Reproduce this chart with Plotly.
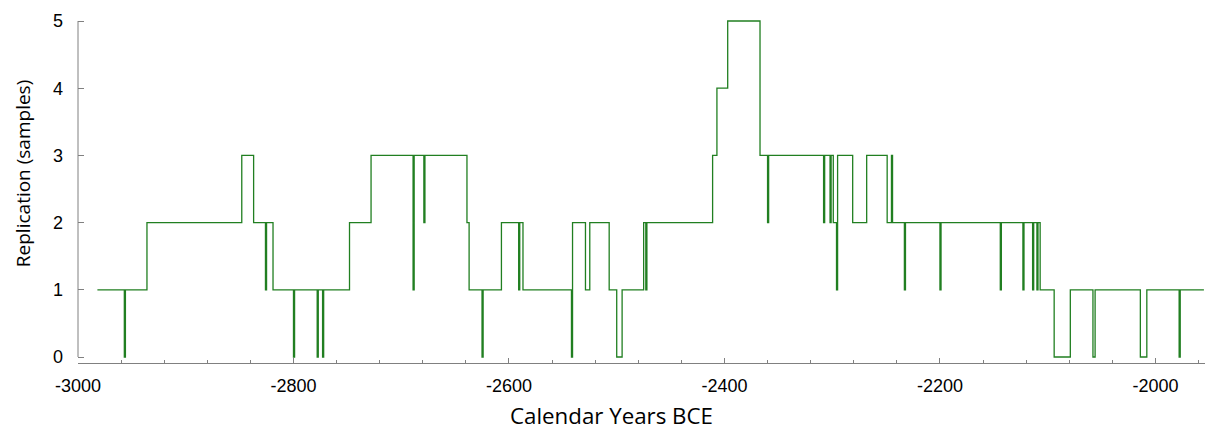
import plotly.graph_objects as go

# Step change points: year where each value starts
years = [-2982, -2957, -2956, -2936, -2848, -2837, -2826, -2825, -2819, -2800,
         -2799, -2778, -2777, -2773, -2772, -2748, -2728, -2689, -2688, -2679,
         -2678, -2639, -2637, -2625, -2624, -2607, -2591, -2590, -2587, -2542,
         -2541, -2529, -2525, -2507, -2500, -2495, -2475, -2473, -2472, -2411,
         -2407, -2397, -2367, -2360, -2359, -2308, -2307, -2302, -2301, -2299,
         -2296, -2295, -2281, -2268, -2249, -2245, -2244, -2233, -2232, -2200,
         -2199, -2144, -2143, -2123, -2122, -2114, -2113, -2110, -2109, -2107,
         -2094, -2079, -2058, -2056, -2014, -2008, -1978, -1977, -1955]
samples = [1, 0, 1, 2, 3, 2, 1, 2, 1, 0,
           1, 0, 1, 0, 1, 2, 3, 1, 3, 2,
           3, 2, 1, 0, 1, 2, 1, 2, 1, 0,
           2, 1, 2, 1, 0, 1, 2, 1, 2, 3,
           4, 5, 3, 2, 3, 2, 3, 2, 3, 2,
           1, 3, 2, 3, 2, 3, 2, 1, 2, 1,
           2, 1, 2, 1, 2, 1, 2, 1, 2, 1,
           0, 1, 0, 1, 0, 1, 0, 1, 1]

x_tick_vals = [-3000, -2800, -2600, -2400, -2200, -2000]
x_tick_text = ["-3000", "-2800", "-2600", "-2400", "-2200", "-2000"]
y_tick_vals = [0, 1, 2, 3, 4, 5]

fig = go.Figure()
fig.add_trace(go.Scatter(
    x=years, y=samples, mode="lines", line_shape="hv",
    line=dict(color="#217f21", width=1.3), showlegend=False,
    hoverinfo="skip"))

axis_col = "#808080"
fig.update_layout(
    width=1208, height=430,
    margin=dict(l=78, r=3, t=19, b=67, autoexpand=False),
    paper_bgcolor="white", plot_bgcolor="white",
    font=dict(family="Liberation Sans, Arial, sans-serif", size=18, color="black"),
    xaxis=dict(range=[-3000, -1954], showgrid=False, zeroline=False,
               automargin=False,
               showline=True, linecolor=axis_col, linewidth=1,
               tickvals=x_tick_vals, ticktext=x_tick_text,
               ticks="inside", ticklen=5, tickcolor=axis_col, tickwidth=1,
               ticklabelstandoff=6,
               minor=dict(ticks="inside", ticklen=3, tick0=-3000, dtick=40,
                          tickcolor=axis_col, tickwidth=1, showgrid=False),
               tickfont=dict(size=18)),
    yaxis=dict(range=[-0.089, 5.03], showgrid=False, zeroline=False,
               automargin=False,
               showline=False, tickvals=y_tick_vals,
               ticks="inside", ticklen=6, tickcolor=axis_col, tickwidth=1,
               ticklabelstandoff=14, tickfont=dict(size=18)),
    shapes=[dict(type="line", xref="paper", yref="y", x0=0, x1=0, y0=0, y1=5,
                 line=dict(color=axis_col, width=1))],
    annotations=[
        dict(text="Calendar Years BCE", xref="paper", yref="paper",
             x=0.473, y=-0.154, xanchor="center", yanchor="middle",
             showarrow=False, font=dict(family="Open Sans, Noto Sans, sans-serif", size=22.3)),
        dict(text="Replication (samples)", xref="paper", yref="paper",
             x=-0.0488, y=0.549, xanchor="center", yanchor="middle",
             textangle=-90, showarrow=False,
             font=dict(family="Open Sans, Noto Sans, sans-serif", size=19)),
    ],
)

fig.write_html("out.html", config={"displayModeBar": False},
               post_script="document.body.style.margin='0';document.body.style.overflow='hidden';")
